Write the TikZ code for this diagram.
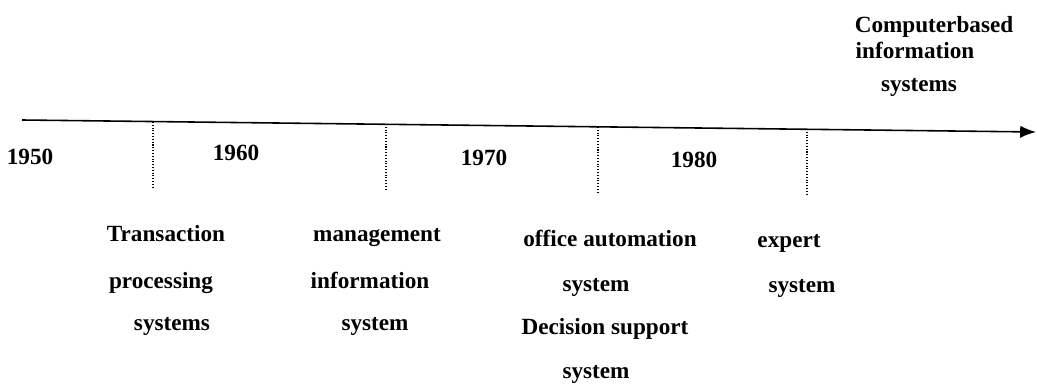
\documentclass[tikz,border=0pt]{standalone}
\usepackage{fontspec}
\setmainfont{Liberation Serif}
\usetikzlibrary{arrows.meta}
\begin{document}
\begin{tikzpicture}[x=0.02cm, y=-0.02cm, font=\bfseries\fontsize{13.2}{15}\selectfont,
  lbl/.style={inner sep=0pt, anchor=center, text height=0.68em, text depth=0.2em, yshift=-1.7pt},
  tick/.style={densely dotted, line width=0.6pt}]
\useasboundingbox (0,0) rectangle (1037,384);
\coordinate (ax0) at (22,120);
\coordinate (ax1) at (1036,132);
\draw[line width=0.9pt, -{Latex[length=9pt, width=7pt]}](ax0) -- (ax1);
\coordinate (t1a) at (153,122);
\coordinate (t1b) at (153,188);
\coordinate (t2a) at (386,124);
\coordinate (t2b) at (386,190);
\coordinate (t3a) at (598,127);
\coordinate (t3b) at (598,192);
\coordinate (t4a) at (807,129);
\coordinate (t4b) at (807,196);
\draw[tick](t1a) -- (t1b);
\draw[tick](t2a) -- (t2b);
\draw[tick](t3a) -- (t3b);
\draw[tick](t4a) -- (t4b);
\node[lbl] (y1950) at (30,157){1950};
\node[lbl] (y1960) at (236,153){1960};
\node[lbl] (y1970) at (484,158){1970};
\node[lbl] (y1980) at (694,160){1980};
\node[lbl] (tps1) at (166,234){Transaction};
\node[lbl] (tps2) at (161,281){processing};
\node[lbl] (tps3) at (172,323){systems};
\node[lbl] (mis1) at (377,234){management};
\node[lbl] (mis2) at (370,281){information};
\node[lbl] (mis3) at (375,323){system};
\node[lbl] (oas1) at (610,239){office automation};
\node[lbl] (oas2) at (596,284){system};
\node[lbl] (dss1) at (605,327){Decision support};
\node[lbl] (dss2) at (596,371){system};
\node[lbl] (es1) at (789,240){expert};
\node[lbl] (es2) at (802,285){system};
\node[lbl] (cbis1) at (934,25){Computerbased};
\node[lbl] (cbis2) at (915,51){information};
\node[lbl] (cbis3) at (919,84){systems};
\end{tikzpicture}
\end{document}
